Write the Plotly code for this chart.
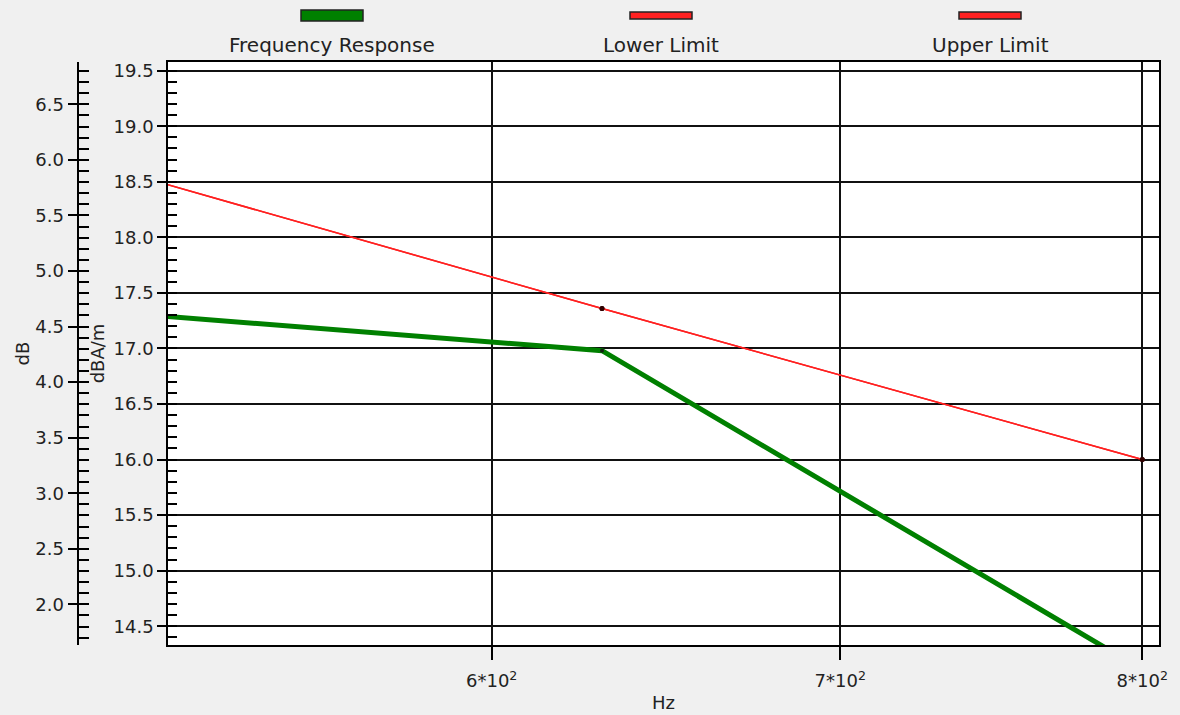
import plotly.graph_objects as go

# ---- data ----
freq_hz = [500, 630, 800]
freq_response = [17.35, 16.98, 14.11]
lower_limit = [18.70, 17.36, 16.00]
upper_limit = [18.70, 17.36, 16.00]
series_names = ["Frequency Response", "Lower Limit", "Upper Limit"]
series_colors = ["#008000", "#FF2020", "#FF2020"]
x_tickvals = [600, 700, 800]
x_ticktext = ["6*10<sup>2</sup>", "7*10<sup>2</sup>", "8*10<sup>2</sup>"]

W, H = 1180, 715
ML, MR, MT, MB = 60, 21, 62, 70
PW = W - ML - MR
PH = H - MT - MB
def px_x(px):
    return (px - ML) / PW
def px_y(py):
    return (H - MB - py) / PH

FONT = "DejaVu Sans"
fig = go.Figure()

fig.add_trace(go.Scatter(x=freq_hz, y=lower_limit, name=series_names[1], mode="lines+markers",
                         line=dict(color=series_colors[1], width=1.5),
                         marker=dict(color="#300000", size=5)))
fig.add_trace(go.Scatter(x=freq_hz, y=upper_limit, name=series_names[2], mode="lines+markers",
                         line=dict(color=series_colors[2], width=1.5),
                         marker=dict(color="#300000", size=5)))
fig.add_trace(go.Scatter(x=freq_hz, y=freq_response, name=series_names[0], mode="lines+markers",
                         line=dict(color=series_colors[0], width=5),
                         marker=dict(color="#102010", size=4)))
# placeholders so the extra dB axes get drawn
fig.add_trace(go.Scatter(x=[None], y=[None], yaxis="y2", showlegend=False, hoverinfo="skip"))
fig.add_trace(go.Scatter(x=[None], y=[None], yaxis="y3", showlegend=False, hoverinfo="skip"))

x0 = px_x(168)
y2pos = px_x(77.5)

fig.update_layout(
    width=W, height=H,
    margin=dict(l=ML, r=MR, t=MT, b=MB, autoexpand=False),
    paper_bgcolor="#F0F0F0", plot_bgcolor="white",
    font=dict(family=FONT, size=18, color="#222"),
    showlegend=False,
    xaxis=dict(type="log", domain=[x0, 1], range=[2.716, 2.9063],
               tickvals=x_tickvals, ticktext=x_ticktext,
               ticks="outside", ticklen=13, tickcolor="black", tickwidth=1.5,
               ticklabelstandoff=6,
               showgrid=True, gridcolor="#111", gridwidth=1.5,
               showline=True, linecolor="black", linewidth=1.5, mirror=True,
               zeroline=False,
               title=dict(text="Hz", standoff=6, font=dict(size=18)),
               automargin=False),
    yaxis=dict(range=[14.331, 19.578], dtick=0.5, tick0=0, tickformat=".1f",
               ticks="outside", ticklen=9, tickcolor="black", tickwidth=1.5,
               minor=dict(dtick=0.1, ticks="inside", ticklen=9, tickcolor="black", tickwidth=1.5, showgrid=False),
               showgrid=True, gridcolor="#111", gridwidth=1.5,
               showline=True, linecolor="black", linewidth=1.5, mirror=True,
               zeroline=False,
               title=dict(text="dBA/m", standoff=4, font=dict(size=18)),
               automargin=False),
    yaxis2=dict(overlaying="y", anchor="free", position=y2pos, side="left",
                range=[1.634, 6.881], dtick=0.5, tick0=0, tickformat=".1f",
                ticks="outside", ticklen=9, tickcolor="black", tickwidth=1.5,
                minor=dict(dtick=0.1, ticks="inside", ticklen=10, tickcolor="black", tickwidth=1.5, showgrid=False),
                showgrid=False, zeroline=False,
                showline=True, linecolor="black", linewidth=2,
                title=dict(text="dB", standoff=0, font=dict(size=18)),
                automargin=False),
    yaxis3=dict(overlaying="y", anchor="free", position=y2pos, side="left",
                range=[1.634, 6.881], dtick=0.5, tick0=0,
                ticks="inside", ticklen=10, tickcolor="black", tickwidth=1.5,
                showticklabels=False, showgrid=False, zeroline=False, showline=False,
                automargin=False),
)

# custom legend: swatch above label
legend_cx = [332, 661, 990]
legend_h = [(10, 21), (12, 19), (12, 19)]
for name, col, cx, (ya, yb) in zip(series_names, series_colors, legend_cx, legend_h):
    fig.add_shape(type="rect", xref="paper", yref="paper",
                  x0=px_x(cx - 31), x1=px_x(cx + 31), y0=px_y(yb), y1=px_y(ya),
                  fillcolor=col, line=dict(color="#222", width=1.5))
    fig.add_annotation(text=name, xref="paper", yref="paper", x=px_x(cx), y=px_y(45),
                       xanchor="center", yanchor="middle", showarrow=False,
                       font=dict(family=FONT, size=20, color="#222"))

fig.write_html("out.html", config={"displayModeBar": False},
               post_script="document.body.style.margin='0';document.body.style.overflow='hidden';")
